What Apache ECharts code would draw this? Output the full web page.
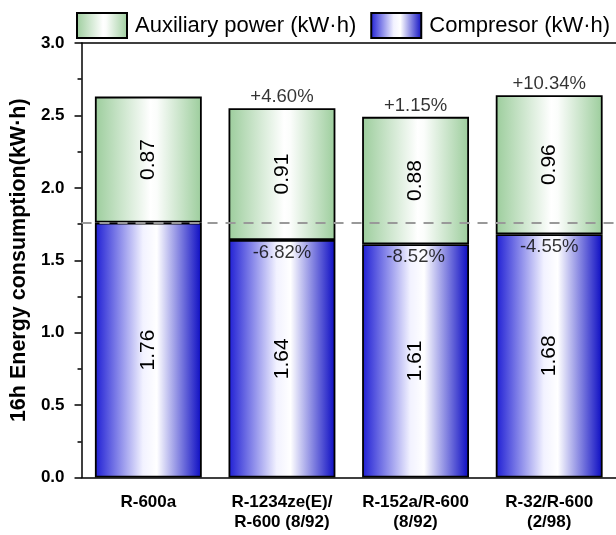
<!DOCTYPE html>
<html>
<head>
<meta charset="utf-8">
<script src="https://cdn.jsdelivr.net/npm/echarts@6/dist/echarts.min.js"></script>
<style>html,body{margin:0;padding:0;background:#fff;}#c{width:616px;height:535px;}</style>
</head>
<body>
<div id="c"></div>
<script>
var categories = ['R-600a', 'R-1234ze(E)/\nR-600 (8/92)', 'R-152a/R-600\n(8/92)', 'R-32/R-600\n(2/98)'];
var compressor = [1.76, 1.64, 1.61, 1.68];
var auxiliary = [0.87, 0.91, 0.88, 0.96];
var compressorChange = [null, '-6.82%', '-8.52%', '-4.55%'];
var totalChange = [null, '+4.60%', '+1.15%', '+10.34%'];
var yTicks = [0, 0.5, 1.0, 1.5, 2.0, 2.5, 3.0];

var FONT = "'Liberation Sans', Arial, sans-serif";
var totals = compressor.map(function (v, i) { return +(v + auxiliary[i]).toFixed(2); });

var greenGrad = new echarts.graphic.LinearGradient(0, 0, 1, 0, [
  {offset: 0, color: '#9ccd9c'}, {offset: 0.52, color: '#ffffff'}, {offset: 0.58, color: '#fbfdfb'}, {offset: 1, color: '#9ccd9c'}
]);
var blueGrad = new echarts.graphic.LinearGradient(0, 0, 1, 0, [
  {offset: 0, color: '#1e1ed4'}, {offset: 0.45, color: '#f2f2ff'}, {offset: 0.58, color: '#ffffff'}, {offset: 1, color: '#0a0ac2'}
]);

var chart = echarts.init(document.getElementById('c'), null, {renderer: 'canvas'});
chart.setOption({
  animation: false,
  backgroundColor: '#fff',
  legend: {
    left: 71, top: 7, width: 560, itemWidth: 50, itemHeight: 25, itemGap: 14, icon: 'rect',
    data: ['Auxiliary power (kW·h)', 'Compresor (kW·h)'],
    textStyle: {fontFamily: FONT, fontSize: 22, color: '#000', padding: [0, 0, 0, 3]}
  },
  grid: {left: 80, right: -4, top: 43, bottom: 57.5, containLabel: false},
  xAxis: [{
    type: 'category', data: categories,
    axisLine: {lineStyle: {color: '#000', width: 1.5}},
    axisTick: {alignWithLabel: true, length: 7, lineStyle: {color: '#000', width: 1.5}},
    axisLabel: {interval: 0, fontFamily: FONT, fontWeight: 'bold', fontSize: 17, color: '#000', margin: 15, lineHeight: 20}
  }, {
    type: 'category', data: categories, position: 'top',
    axisLine: {lineStyle: {color: '#000', width: 1.5}},
    axisTick: {show: false}, axisLabel: {show: false}
  }],
  yAxis: {
    type: 'value', min: yTicks[0], max: yTicks[yTicks.length - 1], interval: 0.5,
    name: '16h Energy consumption(kW·h)', nameLocation: 'middle', nameGap: 47,
    nameTextStyle: {fontFamily: FONT, fontWeight: 'bold', fontSize: 21.5, color: '#000'},
    axisLine: {show: true, lineStyle: {color: '#000', width: 1.5}},
    axisTick: {show: true, length: 7, lineStyle: {color: '#000', width: 1.5}},
    minorTick: {show: true, splitNumber: 2, length: 4, lineStyle: {color: '#000', width: 1.5}},
    splitLine: {show: false},
    axisLabel: {fontFamily: FONT, fontWeight: 'bold', fontSize: 17, color: '#000', margin: 17,
      formatter: function (v) { return v.toFixed(1); }}
  },
  series: [{
    name: 'Compresor (kW·h)', type: 'bar', stack: 'e', barWidth: '80%',
    data: compressor,
    itemStyle: {color: blueGrad, borderColor: '#000', borderWidth: 1.8},
    label: {show: true, position: 'inside', rotate: 90, fontFamily: FONT, fontSize: 21, color: '#000',
      formatter: function (p) { return p.value.toFixed(2); }}
  }, {
    name: 'Auxiliary power (kW·h)', type: 'bar', stack: 'e', barWidth: '80%',
    data: auxiliary,
    itemStyle: {color: greenGrad, borderColor: '#000', borderWidth: 1.8},
    label: {show: true, position: 'inside', rotate: 90, fontFamily: FONT, fontSize: 21, color: '#000',
      formatter: function (p) { return p.value.toFixed(2); }}
  }, {
    name: 'cchg', type: 'scatter', symbolSize: 1, itemStyle: {color: 'rgba(0,0,0,0)'},
    data: compressor.map(function (v, i) { return compressorChange[i] ? v : null; }),
    label: {show: true, position: 'bottom', distance: 3, fontFamily: FONT, fontSize: 18.5, color: '#000',
      formatter: function (p) { return compressorChange[p.dataIndex]; }},
    z: 5
  }, {
    name: 'tchg', type: 'scatter', symbolSize: 1, itemStyle: {color: 'rgba(0,0,0,0)'},
    data: totals.map(function (v, i) { return totalChange[i] ? v : null; }),
    label: {show: true, position: 'top', distance: 1, fontFamily: FONT, fontSize: 18.5, color: '#000',
      formatter: function (p) { return totalChange[p.dataIndex]; }},
    markLine: {
      silent: true, symbol: 'none', label: {show: false},
      lineStyle: {color: '#999', type: [10, 8], width: 2},
      data: [{yAxis: compressor[0]}]
    },
    z: 5
  }]
});
</script>
</body>
</html>
